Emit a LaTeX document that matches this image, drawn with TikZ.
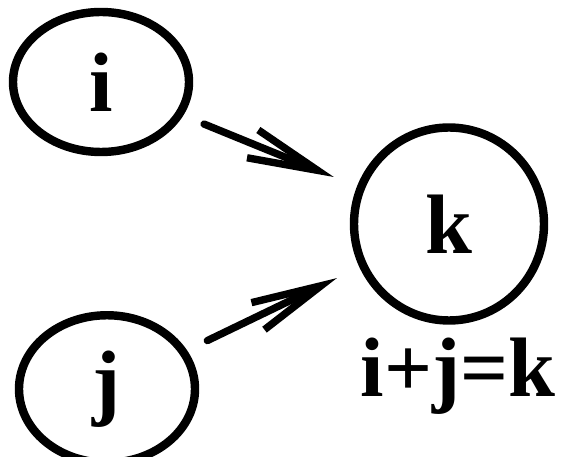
\documentclass[tikz,border=0pt]{standalone}
\usepackage{fontspec}
\setmainfont{Liberation Serif}
\usetikzlibrary{arrows.meta,positioning,shapes.geometric}
\tikzset{
 blob/.style={draw, ellipse, line width=4.8pt, inner sep=0pt, font=\fontsize{48}{48}\selectfont\bfseries},
 sumlabel/.style={inner sep=0pt, font=\fontsize{48}{48}\selectfont\bfseries},
 arrow/.style={-{Straight Barb[length=1.4cm,width=0.6cm]}, line width=4.2pt, line cap=round, shorten <=0.45cm, shorten >=0.5cm}
}
\begin{document}
\begin{tikzpicture}[node distance=0.25cm]
\useasboundingbox (0,0) rectangle (11.32,9.12);
\node[blob,minimum width=3.52cm,minimum height=2.8cm] (i) at (2.02,7.48) {i};
\node[blob,minimum width=3.8cm,minimum height=3.86cm] (k) at (8.98,4.64) {k};
\node[blob,minimum width=3.52cm,minimum height=2.95cm] (j) at (2.14,1.34) {j};
\node[sumlabel,below=of k,xshift=0.18cm] (sum) {i+j=k};
\draw[arrow] (i) -- (k);\draw[arrow] (j) -- (k);
\end{tikzpicture}
\end{document}
